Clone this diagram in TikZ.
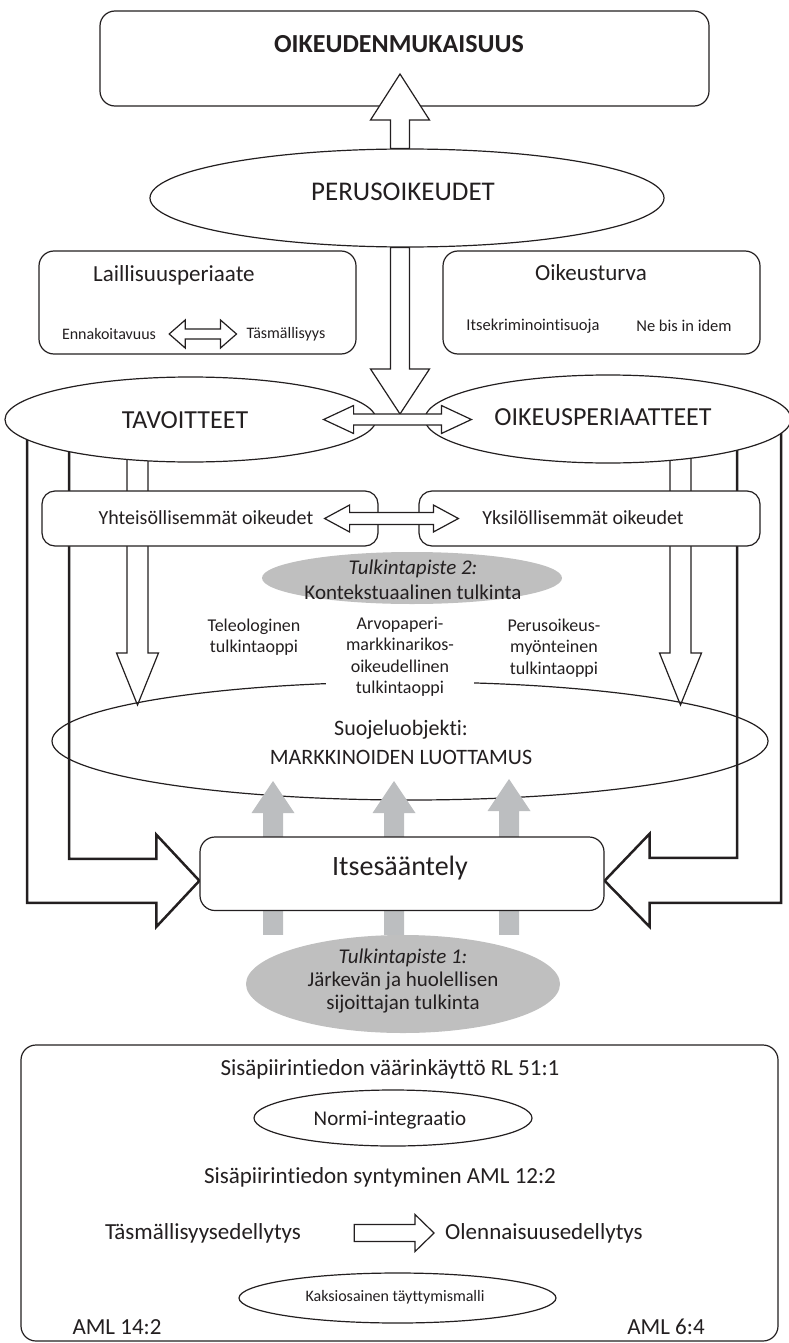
\documentclass[tikz,border=0pt]{standalone}
\usepackage{fontspec}
\setmainfont{Carlito}[Ligatures={NoCommon}]
\usetikzlibrary{calc,shapes.geometric,backgrounds}

\definecolor{ink}{HTML}{231F20}
\definecolor{shade}{HTML}{BFBFBF}
\definecolor{arrowgray}{HTML}{BCBEC0}

\newcommand\fsz[2]{\fontsize{#1}{#2}\selectfont}

% vertical block arrow: [style]{start}{tip}{shaft half width}{head half width}{head length}
\newcommand\vblockarrow[6][]{%
  \path[#1] let \p1=(#2), \p2=(#3), \p3=($(#3)!#6pt!(#2)$) in
    (\x2-#4pt,\y1) -- (\x2-#4pt,\y3) -- (\x2-#5pt,\y3) -- (\x2,\y2)
    -- (\x2+#5pt,\y3) -- (\x2+#4pt,\y3) -- (\x2+#4pt,\y1) -- cycle;}
% horizontal double block arrow: [style]{left tip}{right tip}{shaft half}{head half}{head length}
\newcommand\hdoublearrow[6][]{%
  \path[#1] let \p1=(#2), \p2=(#3) in
    (\x1,\y1) -- (\x1+#6pt,\y1+#5pt) -- (\x1+#6pt,\y1+#4pt) -- (\x2-#6pt,\y1+#4pt)
    -- (\x2-#6pt,\y1+#5pt) -- (\x2,\y1) -- (\x2-#6pt,\y1-#5pt) -- (\x2-#6pt,\y1-#4pt)
    -- (\x1+#6pt,\y1-#4pt) -- (\x1+#6pt,\y1-#5pt) -- cycle;}
% rightward block arrow: [style]{start}{tip}{shaft half}{head half}{head length}
\newcommand\hblockarrow[6][]{%
  \path[#1] let \p1=(#2), \p2=(#3) in
    (\x1,\y2+#4pt) -- (\x2-#6pt,\y2+#4pt) -- (\x2-#6pt,\y2+#5pt) -- (\x2,\y2)
    -- (\x2-#6pt,\y2-#5pt) -- (\x2-#6pt,\y2-#4pt) -- (\x1,\y2-#4pt) -- cycle;}

\tikzset{
  rbox/.style={draw=ink, line width=1.2pt, fill=white, rounded corners=15pt, inner sep=0pt},
  oval/.style={ellipse, draw=ink, line width=1.2pt, fill=white, inner sep=0pt},
  greyoval/.style={ellipse, fill=shade, inner sep=0pt},
  txt/.style={inner sep=0pt, text=ink, align=center},
  blockarrow/.style={draw=ink, line width=1.2pt, fill=white, line join=miter},
  bentarrow/.style={draw=ink, line width=2.5pt, line join=miter},
  greyarrow/.style={fill=arrowgray},
}

\begin{document}
\begin{tikzpicture}[x=1pt,y=-1pt]
\useasboundingbox (0,0) rectangle (788,1343);

% justice at the top
\node[rbox, minimum width=609pt, minimum height=95pt] (justice) at (404.5,58.5) {};
\node[txt, font=\fsz{26}{30}\bfseries] (justiceT) at (399,44) {OIKEUDENMUKAISUUS};

% fundamental rights
\node[oval, minimum width=514pt, minimum height=98pt] (perus) at (407,198) {};
\node[txt, font=\fsz{27}{30}] (perusT) at (403,192) {PERUSOIKEUDET};
\coordinate (upTip) at (400,74);
\coordinate (upStart) at (upTip |- perus.north);
\vblockarrow[blockarrow]{upStart}{upTip}{9.5}{29.5}{46}
\coordinate (downTip) at (400,414);
\coordinate (downStart) at (downTip |- perus.south);
\vblockarrow[blockarrow]{downStart}{downTip}{9.5}{29.5}{45}

% legality principle
\node[rbox, minimum width=317pt, minimum height=103pt] (legal) at (197.5,302.5) {};
\node[txt, font=\fsz{23}{26}] (legalT) at (174,275) {Laillisuusperiaate};
\node[txt, font=\fsz{16}{19}] (enna) at (109,334) {Ennakoitavuus};
\node[txt, font=\fsz{16}{19}] (tasm) at (286,334) {Täsmällisyys};
\hdoublearrow[blockarrow]{[xshift=13pt]enna.east}{[xshift=-10pt]tasm.west}{5}{14}{16}

% legal protection
\node[rbox, minimum width=317pt, minimum height=103pt] (safeguard) at (601.5,302.5) {};
\node[txt, font=\fsz{23}{26}] (safeguardT) at (591,273) {Oikeusturva};
\node[txt, font=\fsz{16.5}{19}] (selfincr) at (533,326) {Itsekriminointisuoja};
\node[txt, font=\fsz{16.5}{19}] (nebis) at (684,326) {Ne bis in idem};

% goals and legal principles
\node[oval, minimum width=371pt, minimum height=85pt] (goals) at (190.5,419.5) {};
\node[txt, font=\fsz{26}{30}] (goalsT) at (185,420) {TAVOITTEET};
\node[oval, minimum width=366pt, minimum height=88pt] (princ) at (608,419) {};
\node[txt, font=\fsz{26}{30}] (princT) at (603,417) {OIKEUSPERIAATTEET};
\hdoublearrow[blockarrow]{[xshift=-53pt]goals.east}{[xshift=47pt]princ.west}{5.5}{14}{30}

% communal and individual rights
\node[rbox, rounded corners=13pt, minimum width=336pt, minimum height=55pt] (communal) at (210,518.5) {};
\node[txt, font=\fsz{20}{24}] (communalT) at (206,518) {Yhteisöllisemmät oikeudet};
\node[rbox, rounded corners=13pt, minimum width=341pt, minimum height=55pt] (individual) at (589.5,518.5) {};
\node[txt, font=\fsz{20}{24}] (individualT) at (583,518) {Yksilöllisemmät oikeudet};
\hdoublearrow[blockarrow]{[xshift=-54pt]communal.east}{[xshift=40pt]individual.west}{6}{13.5}{25}

% interpretation point 2
\node[greyoval, minimum width=300pt, minimum height=52pt] (point2) at (412,578) {};
\node[txt, font=\fsz{21}{25}] (point2T) at (413,579.5) {\textit{Tulkintapiste 2:}\\Kontekstuaalinen tulkinta};

% object of protection
\node[ellipse, draw=ink, line width=1.2pt, inner sep=0pt, minimum width=716pt, minimum height=118pt] (object) at (410,741) {};
\node[txt, font=\fsz{22}{29}] (objectT) at (401,742.5) {Suojeluobjekti:\\MARKKINOIDEN LUOTTAMUS};

% doctrines of interpretation
\node[txt, font=\fsz{18}{21.5}] (teleo) at (254,637) {Teleologinen\\tulkintaoppi};
\node[txt, font=\fsz{18}{21.5}, fill=white, inner xsep=20pt, inner ysep=2pt] (securities) at (400,657) {Arvopaperi-\\markkinarikos-\\oikeudellinen\\tulkintaoppi};
\node[txt, font=\fsz{18}{21.5}] (fundam) at (554,648) {Perusoikeus-\\myönteinen\\tulkintaoppi};

% interpretation point 1
\node[greyoval, minimum width=314pt, minimum height=98pt] (point1) at (403,984) {};
\node[txt, font=\fsz{21}{23}] (point1T) at (403,981) {\textit{Tulkintapiste 1:}\\Järkevän ja huolellisen\\sijoittajan tulkinta};

% grey arrows into the object of protection
\coordinate (g1Tip) at (273,781);
\coordinate (g2Tip) at (394,781);
\coordinate (g3Tip) at (509,779);
\coordinate (g1Start) at (g1Tip |- point1.north);
\coordinate (g2Start) at (g2Tip |- point1.north);
\coordinate (g3Start) at (g3Tip |- point1.north);
\vblockarrow[greyarrow]{g1Start}{g1Tip}{10}{21.5}{32}
\vblockarrow[greyarrow]{g2Start}{g2Tip}{10}{21.5}{32}
\vblockarrow[greyarrow]{g3Start}{g3Tip}{10}{21.5}{32}

% self-regulation
\node[rbox, minimum width=404pt, minimum height=73.5pt] (selfreg) at (402,873.75) {};
\node[txt, font=\fsz{28}{32}] (selfregT) at (400,868) {Itsesääntely};

% arrows running behind the ovals and boxes
\begin{pgfonlayer}{background}
  \coordinate (lTip) at (137.5,705);
  \coordinate (lStart) at (lTip |- goals.center);
  \vblockarrow[blockarrow]{lStart}{lTip}{10.5}{21}{52}
  \coordinate (rTip) at (680.5,705);
  \coordinate (rStart) at (rTip |- princ.center);
  \vblockarrow[blockarrow]{rStart}{rTip}{10.5}{21}{52}
  \path[bentarrow] let \p1=([yshift=-7pt]selfreg.west) in
    (27pt,-420pt) -- (27pt,\y1-22pt) -- (\x1-43pt,\y1-22pt) -- (\x1-43pt,\y1-46pt)
    -- (\x1,\y1) -- (\x1-43pt,\y1+46pt) -- (\x1-43pt,\y1+22pt) -- (69pt,\y1+22pt)
    -- (69pt,-420pt) -- cycle;
  \path[bentarrow] let \p1=([yshift=-7pt]selfreg.east) in
    (781pt,-420pt) -- (781pt,\y1-22pt) -- (\x1+45pt,\y1-22pt) -- (\x1+45pt,\y1-46pt)
    -- (\x1,\y1) -- (\x1+45pt,\y1+47pt) -- (\x1+45pt,\y1+23pt) -- (737pt,\y1+23pt)
    -- (737pt,-420pt) -- cycle;
\end{pgfonlayer}

% insider information
\node[rbox, minimum width=757pt, minimum height=296pt] (law) at (399.5,1193) {};
\node[txt, font=\fsz{23}{26}] (misuse) at (390,1069) {Sisäpiirintiedon väärinkäyttö RL 51:1};
\node[oval, minimum width=278pt, minimum height=56pt] (normi) at (393,1118) {};
\node[txt, font=\fsz{21}{24}] (normiT) at (390,1120) {Normi-integraatio};
\node[txt, font=\fsz{23}{26}] (origin) at (380,1177) {Sisäpiirintiedon syntyminen AML 12:2};
\node[txt, font=\fsz{23}{26}] (prec) at (203,1233) {Täsmällisyysedellytys};
\node[txt, font=\fsz{23}{26}] (mater) at (544,1233) {Olennaisuusedellytys};
\hblockarrow[blockarrow]{[xshift=53pt]prec.east}{[xshift=-11pt]mater.west}{8.5}{18.5}{19}
\node[oval, minimum width=317pt, minimum height=50pt] (twopart) at (397.5,1298) {};
\node[txt, font=\fsz{16}{19}] (twopartT) at (395,1297) {Kaksiosainen täyttymismalli};
\node[txt, font=\fsz{23}{26}] (aml142) at (117,1327) {AML 14:2};
\node[txt, font=\fsz{23}{26}] (aml64) at (666,1327) {AML 6:4};
\end{tikzpicture}
\end{document}
